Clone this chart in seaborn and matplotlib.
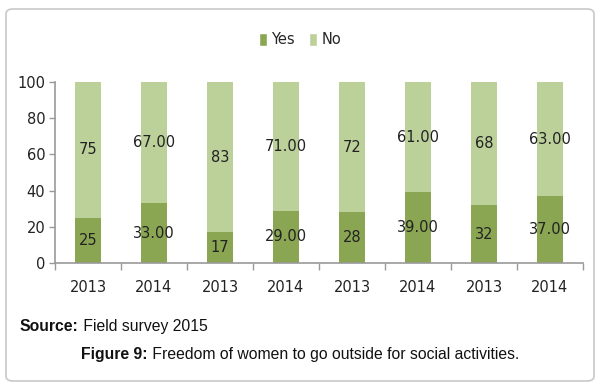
import matplotlib
matplotlib.use("Agg")
import matplotlib.pyplot as plt
import seaborn as sns
import pandas as pd
import numpy as np
from matplotlib.patches import FancyBboxPatch, Patch

years = ["2013", "2014", "2013", "2014", "2013", "2014", "2013", "2014"]
yes_vals = [25, 33, 17, 29, 28, 39, 32, 37]
no_vals = [75, 67, 83, 71, 72, 61, 68, 63]
yes_labels = ["25", "33.00", "17", "29.00", "28", "39.00", "32", "37.00"]
no_labels = ["75", "67.00", "83", "71.00", "72", "61.00", "68", "63.00"]

YES_C = "#8ba653"
NO_C = "#bcd09a"

sns.set_theme(style="white")
plt.rcParams["font.family"] = ["DejaVu Sans"]

ids = [f"g{i}" for i in range(len(years))]
df = pd.DataFrame({"id": ids, "yes": yes_vals, "no": no_vals})
df["total"] = df["yes"] + df["no"]

fig = plt.figure(figsize=(6.0, 3.89), dpi=100)
ax = fig.add_axes([55/600, 1-263/389, (583-55)/600, (263-82)/389])

sns.barplot(data=df, x="id", y="total", order=ids, color=NO_C, width=0.4,
            saturation=1, ax=ax, linewidth=0)
sns.barplot(data=df, x="id", y="yes", order=ids, color=YES_C, width=0.4,
            saturation=1, ax=ax, linewidth=0)

ax.set_ylim(0, 100)
ax.set_xlim(-0.5, len(ids) - 0.5)
ax.set_xlabel("")
ax.set_ylabel("")
ax.set_yticks(np.arange(0, 101, 20))
ax.set_yticklabels([str(v) for v in range(0, 101, 20)], fontsize=10.5, color="#222222")
ax.set_xticks(range(len(ids)))
ax.set_xticklabels(years, fontsize=10.5, color="#222222")
ax.tick_params(axis="x", length=0, pad=12)
ax.set_xticks(np.arange(-0.5, len(ids), 1.0), minor=True)
ax.tick_params(axis="x", which="minor", length=5, color="#999999", width=1, direction="out", bottom=True)
ax.tick_params(axis="y", length=4, color="#999999", width=1, direction="out", left=True, pad=3)

for s in ["top", "right"]:
    ax.spines[s].set_visible(False)
for s in ["left", "bottom"]:
    ax.spines[s].set_color("#999999")
    ax.spines[s].set_linewidth(1.2)

for i, (y, n, yl, nl) in enumerate(zip(yes_vals, no_vals, yes_labels, no_labels)):
    ax.text(i, y / 2, yl, ha="center", va="center", fontsize=10.5, color="#222222")
    ax.text(i, y + n / 2, nl, ha="center", va="center", fontsize=10.5, color="#222222")

handles = [Patch(facecolor=YES_C, label="Yes"), Patch(facecolor=NO_C, label="No")]
fig.legend(handles=handles, loc="center", bbox_to_anchor=(0.5, 1 - 40/389), ncol=2,
           frameon=False, fontsize=10.5, handlelength=0.55, handleheight=1.0,
           handletextpad=0.3, columnspacing=1.0)

renderer = fig.canvas.get_renderer()


def two_part(x_px, base_px, bold, rest, size, center=False):
    kw = dict(fontsize=size, family=["Liberation Sans"], va="baseline", ha="left", color="#111111")
    t1 = fig.text(0, 1 - base_px / 389, bold, fontweight="bold", **kw)
    t2 = fig.text(0, 1 - base_px / 389, "\u00a0" + rest, **kw)
    w1 = t1.get_window_extent(renderer).width
    w2 = t2.get_window_extent(renderer).width
    if center:
        x_px = x_px - (w1 + w2) / 2
    t1.set_x(x_px / 600)
    t2.set_x((x_px + w1) / 600)


two_part(20, 331, "Source:", "Field survey 2015", 11.3)
two_part(300, 359, "Figure 9:", "Freedom of women to go outside for social activities.", 11.3, center=True)

box = FancyBboxPatch((6/600, 1 - 381/389), 588/600, 372/389,
                     boxstyle="round,pad=0,rounding_size=0.012",
                     transform=fig.transFigure, facecolor="none",
                     edgecolor="#c8c8c8", linewidth=1.2)
fig.patches.append(box)

fig.savefig("out.png", dpi=100)
